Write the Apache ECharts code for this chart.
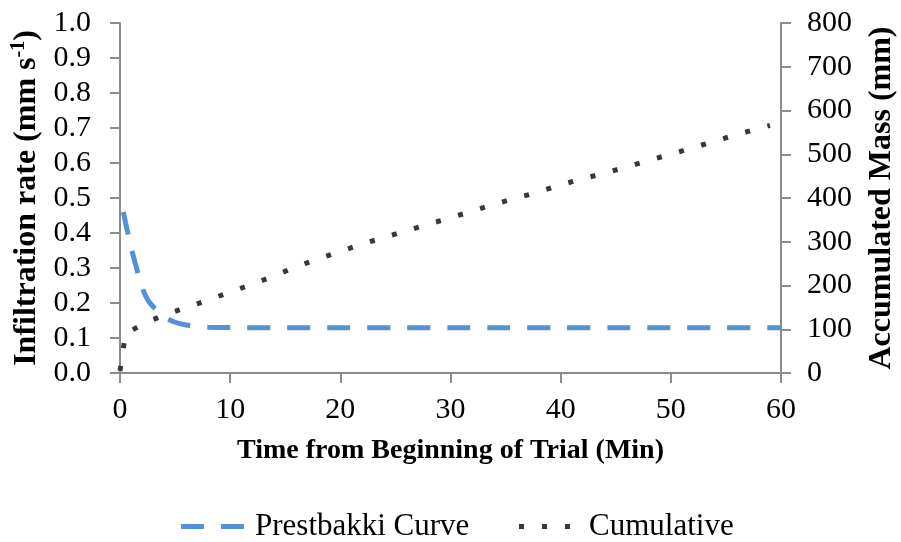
<!DOCTYPE html>
<html><head><meta charset="utf-8">
<script src="https://cdn.jsdelivr.net/npm/echarts@6/dist/echarts.min.js"></script>
<style>html,body{margin:0;padding:0;background:#fff}#c{width:901px;height:542px}</style>
</head><body><div id="c"></div>
<script>
// Prestbakki curve (infiltration rate, mm s-1)
const rateTime = [0.3, 0.5, 1, 1.5, 2, 2.5, 3, 3.5, 4, 5, 6, 7, 8, 10, 15, 20, 25, 30, 35, 40, 45, 50, 55, 60];
const rateVals = [0.46, 0.43, 0.36, 0.30, 0.245, 0.21, 0.19, 0.175, 0.16, 0.145, 0.137, 0.133, 0.131, 0.13, 0.129, 0.129, 0.129, 0.129, 0.129, 0.129, 0.129, 0.129, 0.129, 0.129];
// Cumulative (accumulated mass, mm)
const cumTime = [0, 0.5, 1, 2, 3, 4, 5, 6, 7, 8, 9, 10, 12, 14, 16, 18, 20, 22, 24, 26, 28, 30, 32, 34, 36, 38, 40, 42, 44, 46, 48, 50, 52, 54, 56, 58, 59];
const cumVals = [5, 90, 97, 110, 122, 132, 141, 150, 158, 167, 176, 185, 203, 222, 243, 261, 278, 295, 310, 325, 340, 355, 370, 386, 400, 414, 430, 444, 457, 471, 486, 500, 515, 530, 545, 559, 566];
const seriesNames = ['Prestbakki Curve', 'Cumulative'];
const xTitle = 'Time from Beginning of Trial (Min)';

const FONT = 'Liberation Serif';
const AX = '#8c8c8c';
const chart = echarts.init(document.getElementById('c'));
const axisCommon = {
  axisLine: {show: true, lineStyle: {color: AX, width: 2}},
  axisTick: {show: true, inside: false, length: 10, lineStyle: {color: AX, width: 2}},
  splitLine: {show: false},
  axisLabel: {color: '#000', fontFamily: FONT, fontSize: 30, margin: 20}
};
const legendText = {fontFamily: FONT, fontSize: 31, color: '#000'};
chart.setOption({
  animation: false,
  grid: {left: 120, right: 120, top: 23, bottom: 169, containLabel: false, outerBoundsMode: 'none'},
  legend: [{
    data: [{name: seriesNames[0], icon: 'path://M0,0h23v5h-23z M40,0h23v5h-23z'}],
    left: 176, top: 506, itemWidth: 63, itemHeight: 5,
    textStyle: Object.assign({}, legendText, {padding: [0, 0, 0, 6]})
  }, {
    data: [{name: seriesNames[1], icon: 'path://M0,0h5v5h-5z M23,0h5v5h-5z M46,0h5v5h-5z'}],
    left: 514, top: 506, itemWidth: 51, itemHeight: 5,
    textStyle: Object.assign({}, legendText, {padding: [0, 0, 0, 14]})
  }],
  xAxis: Object.assign({}, axisCommon, {
    type: 'value', min: 0, max: 60, interval: 10,
    name: xTitle, nameLocation: 'middle', nameGap: 64,
    nameTextStyle: {fontFamily: FONT, fontSize: 28, fontWeight: 'bold', color: '#000'},
    axisLabel: Object.assign({}, axisCommon.axisLabel, {margin: 22})
  }),
  yAxis: [
    Object.assign({}, axisCommon, {
      type: 'value', min: 0, max: 1, interval: 0.1, position: 'left',
      axisLabel: Object.assign({}, axisCommon.axisLabel, {formatter: v => v.toFixed(1), margin: 29}),
      name: '{a|Infiltration rate (mm s}{s|-1}{a|)}', nameLocation: 'middle', nameGap: 67, nameRotate: 90,
      nameTextStyle: {rich: {
        a: {fontFamily: FONT, fontSize: 32, fontWeight: 'bold', color: '#000', lineHeight: 36},
        s: {fontFamily: FONT, fontSize: 20, fontWeight: 'bold', color: '#000', lineHeight: 36, verticalAlign: 'top', padding: [0, 0, 14, 0]}
      }}
    }),
    Object.assign({}, axisCommon, {
      type: 'value', min: 0, max: 800, interval: 100, position: 'right',
      axisLabel: Object.assign({}, axisCommon.axisLabel, {margin: 26}),
      name: 'Accumulated Mass (mm)', nameLocation: 'middle', nameGap: 85, nameRotate: 90,
      nameTextStyle: {fontFamily: FONT, fontSize: 32, fontWeight: 'bold', color: '#000'}
    })
  ],
  series: [{
    name: seriesNames[0], type: 'line', yAxisIndex: 0, symbol: 'none', smooth: 0.3,
    data: rateTime.map((t, i) => [t, rateVals[i]]),
    lineStyle: {color: '#5590d9', width: 5, type: [23, 17], cap: 'butt'},
    itemStyle: {color: '#5590d9'}
  }, {
    name: seriesNames[1], type: 'line', yAxisIndex: 1, symbol: 'none',
    data: cumTime.map((t, i) => [t, cumVals[i]]),
    lineStyle: {color: '#383838', width: 5, type: [5, 18], cap: 'butt'},
    itemStyle: {color: '#383838'}
  }]
});
</script></body></html>
